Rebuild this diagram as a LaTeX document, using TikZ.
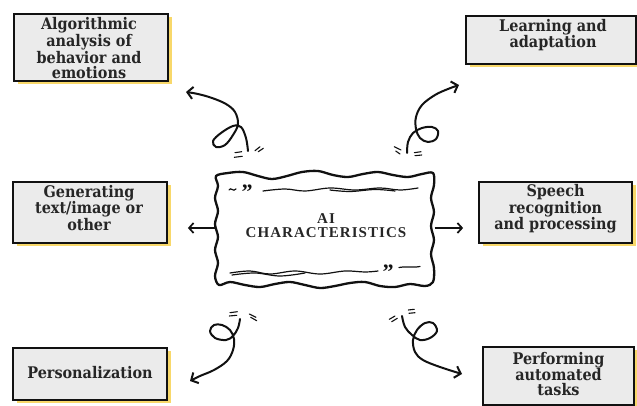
\documentclass[tikz,border=0pt]{standalone}
\usepackage{fontspec}
\setmainfont{Liberation Serif}
\newfontfamily\cardfont{DejaVu Serif Condensed}
\usetikzlibrary{arrows.meta,shadows}
\definecolor{boxfill}{HTML}{EBEBEB}
\definecolor{shadowy}{HTML}{F8D86A}
\definecolor{inkc}{HTML}{111111}
\definecolor{textc}{HTML}{262626}
\begin{document}
\begin{tikzpicture}[x=1pt,y=-1pt,
  card/.style={draw=inkc, line width=1.8pt, fill=boxfill, inner sep=0pt,
    drop shadow={shadow xshift=3.5pt, shadow yshift=-3pt, fill=shadowy, opacity=1}},
  cardtext/.style={align=center, inner sep=0pt,
    font=\cardfont\bfseries\fontsize{16}{15}\selectfont, text=textc},
  curl/.style={draw=inkc, line width=2pt, line cap=round, line join=round,
    -{Straight Barb[length=5.5pt,width=12pt]}},
  straightarr/.style={draw=inkc, line width=1.7pt, -{Straight Barb[length=4.5pt,width=10pt]}},
  tick/.style={draw=inkc, line width=1.1pt, line cap=round},
  frameline/.style={draw=inkc, line width=2.3pt, line join=round},
  thinwave/.style={draw=inkc, line width=1.2pt, line cap=round},
  quote/.style={font=\bfseries\fontsize{22}{22}\selectfont, text=inkc, inner sep=0pt, anchor=base},
]
\useasboundingbox (0,0) rectangle (637,406);

% boxes
\node[card, minimum width=154, minimum height=67] (b1) at (91,47.5) {};
\node[card, minimum width=170, minimum height=48] (b2) at (551,40) {};
\node[card, minimum width=154, minimum height=61] (b3) at (90,212.5) {};
\node[card, minimum width=153, minimum height=61] (b4) at (555.5,212.5) {};
\node[card, minimum width=154, minimum height=52] (b5) at (90,374) {};
\node[card, minimum width=151, minimum height=58] (b6) at (558.5,376) {};

\node[cardtext] (t1) at (89,48) {Algorithmic\\analysis of\\behavior and\\emotions};
\node[cardtext] (t2) at (553,35) {Learning and\\adaptation};
\node[cardtext] (t3) at (89,208) {Generating\\text/image or\\other};
\node[cardtext] (t4) at (555.5,209) {Speech\\recognition\\and processing};
\node[cardtext] (t5) at (90,373) {Personalization};
\node[cardtext] (t6) at (558.5,374) {Performing\\automated\\tasks};

% center frame
\node[minimum width=219, minimum height=114, inner sep=0pt] (c) at (325,228) {};
\draw[frameline] plot[smooth cycle, tension=0.55] coordinates {
  (216,176) (228,173) (243,172) (258,176) (272,179) (287,176) (302,172) (318,171)
  (333,175) (348,177) (363,174) (378,172) (393,175) (408,177) (422,174) (433,173)
  (434,185) (431,198) (434,212) (431,226) (434,240) (431,254) (434,268) (433,282)
  (425,286) (410,284) (395,287) (380,286) (365,282) (350,283) (335,286) (320,288)
  (305,285) (290,282) (275,284) (260,287) (245,285) (230,282) (219,285)
  (215,276) (218,263) (215,250) (218,237) (215,224) (218,211) (215,198) (218,186)};
\node[font=\bfseries\addfontfeatures{LetterSpace=7}\fontsize{15}{14}\selectfont, text=textc, align=center, inner sep=0pt] (ct) at (326,226) {AI\\CHARACTERISTICS};

% inner decorations
\draw[thinwave] (229,190) .. controls (231,186.5) and (233,192.5) .. (236,189);
\node[quote] (q1) at (247,200) {”};
\draw[thinwave] plot[smooth, tension=0.6] coordinates {(263,191) (285,189) (305,191) (330,188) (355,190) (380,188) (400,190) (418,188)};
\draw[thinwave] plot[smooth, tension=0.6] coordinates {(330,190) (350,191.5) (375,189.5) (395,191)};
\draw[thinwave] plot[smooth, tension=0.6] coordinates {(230,273) (250,271) (270,274) (295,271) (320,274) (345,271) (365,272) (378,271)};
\draw[thinwave] plot[smooth, tension=0.6] coordinates {(232,275) (255,273) (280,276) (305,273)};
\node[quote] (q2) at (388,279) {”};
\draw[thinwave] (399,267.5) .. controls (405,266) and (412,268) .. (420,266.5);

% straight arrows
\draw[straightarr, shorten >=20pt] (c.west) -- (c.west -| b3.east);
\draw[straightarr, shorten >=15pt] (c.east) -- (c.east -| b4.west);

% curly arrows
\draw[curl] plot[smooth, tension=0.6] coordinates {(248,151) (246,138) (241,127) (233,126) (221,133) (213,141) (216,147) (225,145) (233,135) (238,124) (235,112) (226,104) (212,98) (198,94) (186,92)};
\draw[curl] plot[smooth, tension=0.6] coordinates {(407,153) (408,142) (413,133) (422,128) (432,127) (438,131) (436,139) (428,142) (420,138) (416,129) (416,117) (422,105) (435,95) (448,89) (459,85)};
\draw[curl] plot[smooth, tension=0.6] coordinates {(240,319) (238,328) (233,336) (226,340) (215,338) (210,331) (214,325) (222,325) (230,330) (234,339) (233,350) (227,361) (214,370) (200,376) (190,381)};
\draw[curl] plot[smooth, tension=0.6] coordinates {(402,316) (405,327) (412,335) (420,340) (430,338) (437,331) (433,323) (425,323) (417,330) (413,340) (415,352) (423,360) (440,367) (462,374)};

% small ticks
\draw[tick] (235,152.7) -- (241.7,151.7);
\draw[tick] (234.3,157.3) -- (242.3,156.3);
\draw[tick] (255,150.7) -- (260,146.7);
\draw[tick] (258.3,151.7) -- (263.3,148.3);

\draw[tick] (394.3,146.7) -- (401,150);
\draw[tick] (395.7,151) -- (400,154);
\draw[tick] (414.3,152.7) -- (421,151.7);
\draw[tick] (415,155.7) -- (421.7,155);

\draw[tick] (230,312.7) -- (237.3,311.7);
\draw[tick] (229.3,316) -- (236.7,315.3);
\draw[tick] (249.3,314) -- (256,317.3);
\draw[tick] (250.7,317.3) -- (256.7,320.7);

\draw[tick] (389.3,319.3) -- (395,316);
\draw[tick] (391.7,321.7) -- (397.3,318.3);
\draw[tick] (408.3,310) -- (414.3,309.3);
\draw[tick] (409,313.3) -- (415,312.7);
\end{tikzpicture}
\end{document}
